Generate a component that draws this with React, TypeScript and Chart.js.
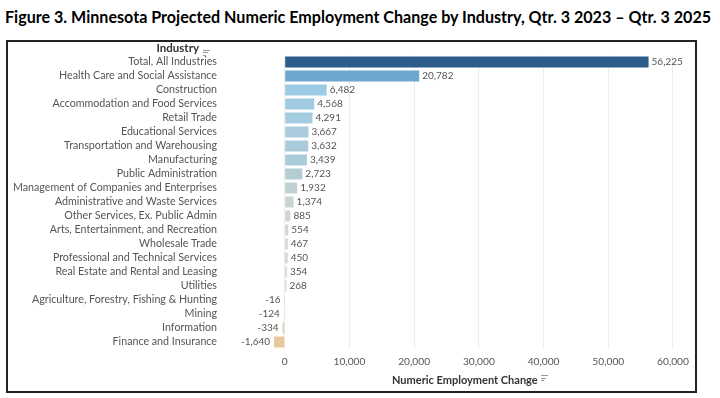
import React, { useEffect, useRef } from 'react';
import { Chart, registerables } from 'chart.js';

Chart.register(...registerables);

const industries: string[] = [
  'Total, All Industries',
  'Health Care and Social Assistance',
  'Construction',
  'Accommodation and Food Services',
  'Retail Trade',
  'Educational Services',
  'Transportation and Warehousing',
  'Manufacturing',
  'Public Administration',
  'Management of Companies and Enterprises',
  'Administrative and Waste Services',
  'Other Services, Ex. Public Admin',
  'Arts, Entertainment, and Recreation',
  'Wholesale Trade',
  'Professional and Technical Services',
  'Real Estate and Rental and Leasing',
  'Utilities',
  'Agriculture, Forestry, Fishing & Hunting',
  'Mining',
  'Information',
  'Finance and Insurance',
];

const changes: number[] = [
  56225, 20782, 6482, 4568, 4291, 3667, 3632, 3439, 2723, 1932, 1374, 885, 554, 467, 450, 354, 268,
  -16, -124, -334, -1640,
];

const barColors: string[] = [
  '#2b5c8a', '#6ea6d0', '#9ccbe4', '#a0cbe2', '#a4cce0', '#a9cbdc', '#a9cbdc', '#accbda',
  '#b6ccd4', '#c1d1d1', '#c7d4d0', '#d0d6cd', '#d3d7cb', '#d4d7cb', '#d4d7cb', '#d5d7ca',
  '#d6d7c9', '#d8d6c7', '#dbd3c0', '#dfd0b8', '#e8c79c',
];

const xTicks: number[] = [0, 10000, 20000, 30000, 40000, 50000, 60000];

const TITLE = 'Figure 3. Minnesota Projected Numeric Employment Change by Industry, Qtr. 3 2023 \u2013 Qtr. 3 2025';
const Y_HEADER = 'Industry';
const X_TITLE = 'Numeric Employment Change';

const BODY_FONT = 'Lato, "Open Sans", sans-serif';

function SortIcon() {
  const line = (w: number) => (
    <div style={{ width: w, height: 1, background: '#9a9a9a', marginBottom: 1.5 }} />
  );
  return (
    <div style={{ display: 'inline-flex', flexDirection: 'column', marginLeft: 3, verticalAlign: 'middle' }}>
      {line(7)}
      {line(5)}
      {line(3)}
    </div>
  );
}

export default function App() {
  const ref = useRef<HTMLCanvasElement>(null);

  useEffect(() => {
    document.body.style.margin = '0';
    const valueLabels = {
      id: 'valueLabels',
      afterDatasetsDraw(chart: any) {
        const ctx = chart.ctx;
        const meta = chart.getDatasetMeta(0);
        ctx.save();
        ctx.font = `10px ${BODY_FONT}`;
        ctx.fillStyle = '#555555';
        ctx.textBaseline = 'middle';
        meta.data.forEach((el: any, i: number) => {
          const v = changes[i];
          const txt = v.toLocaleString('en-US');
          if (v >= 0) {
            ctx.textAlign = 'left';
            ctx.fillText(txt, el.x + 3, el.y);
          } else {
            ctx.textAlign = 'right';
            ctx.fillText(txt, el.x - 4, el.y);
          }
        });
        ctx.restore();
      },
    };

    const chart = new Chart(ref.current as HTMLCanvasElement, {
      type: 'bar',
      data: {
        labels: industries,
        datasets: [
          {
            data: changes,
            backgroundColor: barColors,
            barPercentage: 0.786,
            categoryPercentage: 1,
          },
        ],
      },
      options: {
        indexAxis: 'y',
        responsive: false,
        animation: false,
        layout: { padding: { top: 55, right: 25, bottom: 0, left: 0 } },
        plugins: { legend: { display: false }, tooltip: { enabled: false } },
        scales: {
          x: {
            min: -10000,
            max: 63400,
            afterBuildTicks: (scale: any) => {
              scale.ticks = xTicks.map((v) => ({ value: v }));
            },
            grid: { color: '#ececec', drawTicks: false },
            border: { display: false },
            ticks: {
              padding: 7,
              color: '#555555',
              font: { family: BODY_FONT, size: 10.2 },
              callback: (v: any) => Number(v).toLocaleString('en-US'),
            },
            afterFit: (s: any) => {
              s.height = 49;
            },
          },
          y: {
            grid: { display: false, drawTicks: false },
            border: { display: false },
            ticks: {
              autoSkip: false,
              padding: 3,
              color: '#555555',
              font: { family: BODY_FONT, size: 10.7 },
            },
            afterFit: (s: any) => {
              s.width = 220;
            },
          },
        },
      },
      plugins: [valueLabels],
    });
    return () => chart.destroy();
  }, []);

  return (
    <div style={{ position: 'fixed', left: 0, top: 0, width: 720, height: 398, background: '#fff', overflow: 'hidden' }}>
      <div
        style={{
          position: 'absolute',
          left: 5,
          top: 7,
          whiteSpace: 'nowrap',
          font: `bold 16.1px ${BODY_FONT}`,
          color: '#000',
        }}
      >
        {TITLE}
      </div>
      <div
        style={{
          position: 'absolute',
          left: 6,
          top: 40,
          width: 687,
          height: 349,
          border: '2px solid #222',
        }}
      />
      <canvas ref={ref} width={720} height={398} style={{ position: 'absolute', left: 0, top: 0 }} />
      <div
        style={{
          position: 'absolute',
          right: 720 - 199,
          top: 40,
          whiteSpace: 'nowrap',
          font: `bold 11.5px ${BODY_FONT}`,
          color: '#333',
          display: 'flex',
          alignItems: 'center',
          height: 14,
        }}
      >
        <span>{Y_HEADER}</span>
      </div>
      <div style={{ position: 'absolute', left: 200, top: 43 }}>
        <SortIcon />
      </div>
      <div
        style={{
          position: 'absolute',
          left: 392,
          top: 372,
          whiteSpace: 'nowrap',
          font: `bold 11px ${BODY_FONT}`,
          color: '#333',
          display: 'flex',
          alignItems: 'center',
          height: 14,
        }}
      >
        <span>{X_TITLE}</span>
        <SortIcon />
      </div>
    </div>
  );
}
